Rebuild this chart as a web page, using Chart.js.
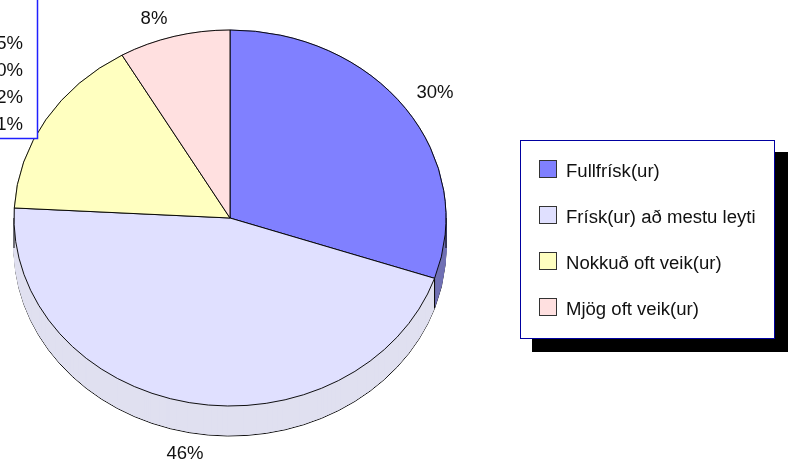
<!DOCTYPE html>
<html><head><meta charset="utf-8">
<style>html,body{margin:0;padding:0;background:#fff}#w{width:793px;height:463px;position:relative}</style>
<script src="https://cdn.jsdelivr.net/npm/chart.js@4/dist/chart.umd.min.js"></script>
</head><body><div id="w"><canvas id="c" width="793" height="463"></canvas></div>
<script>
const categories = ["Fullfrísk(ur)", "Frísk(ur) að mestu leyti", "Nokkuð oft veik(ur)", "Mjög oft veik(ur)"];
const values = [30.2, 45.65, 15.82, 8.33];
const topColors = ["#8080ff", "#e0e0ff", "#ffffc0", "#ffe0e0"];
const sideColors = ["#7070b4", "#e0e0f0", "#b4b488", "#b49e9e"];
const tableTexts = ["5%", "0%", "2%", "1%"];
const sliceLabels = ["30%", "46%", "16%", "8%"];

const RX = 216, RY = 188, DEPTH = 30, CX = 230, CY = 218;
const FONT = '18px "Liberation Sans", Arial, sans-serif';
const TEXT = '#111';
const SX = 1.03;

function squash(ctx, dy){
  ctx.translate(CX, CY + dy);
  ctx.scale(1, RY / RX);
  ctx.translate(-CX, -CY);
}
function stretchText(ctx, s, x, y, align, sx){
  ctx.save();
  ctx.translate(x, y); ctx.scale(sx, 1);
  ctx.textAlign = align; ctx.textBaseline = 'middle';
  ctx.fillText(s, 0, 0);
  ctx.restore();
}
const pie3d = {
  id: 'pie3d',
  beforeDatasetsDraw(chart){
    const ctx = chart.ctx, els = chart.getDatasetMeta(0).data;
    const paint = (dy, border) => {
      els.forEach((el, i) => {
        const o = el.options;
        el.options = Object.assign(Object.create(o), {
          backgroundColor: sideColors[i],
          borderColor: border ? '#000' : sideColors[i],
          borderWidth: 1
        });
        ctx.save(); squash(ctx, dy); el.draw(ctx); ctx.restore();
        el.options = o;
      });
    };
    paint(DEPTH, true);
    for (let d = DEPTH - 1; d >= 0; d--) paint(d, false);
    ctx.save();
    ctx.strokeStyle = '#000'; ctx.lineWidth = 1;
    const edge = a => {
      const x = CX + RX * Math.cos(a), y = CY + RY * Math.sin(a);
      ctx.beginPath(); ctx.moveTo(x, y); ctx.lineTo(x, y + DEPTH); ctx.stroke();
    };
    edge(0); edge(Math.PI); edge(els[0].endAngle);
    ctx.restore();
    ctx.save(); squash(ctx, 0);
  },
  afterDatasetsDraw(chart){
    const ctx = chart.ctx;
    ctx.restore();
    ctx.save();
    ctx.font = FONT; ctx.fillStyle = TEXT;
    [[435,93],[185,454],null,[154,19]].forEach((p,i)=>{ if(p) stretchText(ctx, sliceLabels[i], p[0], p[1], 'center', SX); });
    ctx.fillStyle = '#fff'; ctx.fillRect(0,0,37,138);
    ctx.strokeStyle = '#2020ff'; ctx.lineWidth = 1.5;
    ctx.beginPath(); ctx.moveTo(37.5,0); ctx.lineTo(37.5,138.5); ctx.lineTo(0,138.5); ctx.stroke();
    ctx.fillStyle = TEXT;
    tableTexts.forEach((t,i)=>stretchText(ctx, t, 23, 44 + i*27, 'right', SX));
    ctx.lineWidth = 1;
    ctx.fillStyle = '#000'; ctx.fillRect(532,152,256,200);
    ctx.fillStyle = '#fff'; ctx.fillRect(520,140,255,199);
    ctx.strokeStyle = '#0000a0'; ctx.strokeRect(520.5,140.5,254,198);
    categories.forEach((t,i)=>{
      const y = 169 + i*46;
      ctx.fillStyle = topColors[i]; ctx.fillRect(539.5,y-8.5,17,17);
      ctx.strokeStyle = '#333'; ctx.strokeRect(539.5,y-8.5,17,17);
      ctx.fillStyle = TEXT;
      stretchText(ctx, t, 566, y+3, 'left', SX);
    });
    ctx.restore();
  }
};
new Chart(document.getElementById('c'), {
  type: 'pie',
  data: { labels: categories, datasets: [{ data: values, backgroundColor: topColors, borderColor: '#000', borderWidth: 1 }] },
  options: {
    responsive: false, animation: false, radius: RX,
    layout: { padding: { left: 14, right: 347, top: 2, bottom: 29 } },
    plugins: { legend: { display: false }, tooltip: { enabled: false } }
  },
  plugins: [pie3d]
});
</script></body></html>
